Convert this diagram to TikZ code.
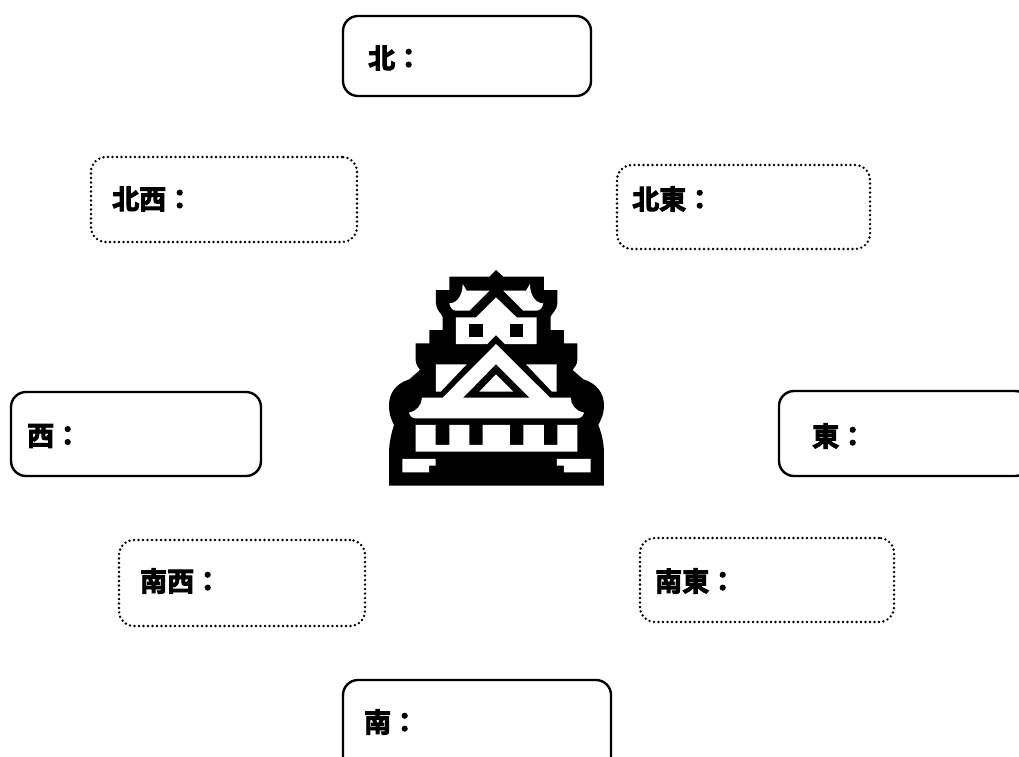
\documentclass[tikz,border=0pt]{standalone}
\usepackage{fontspec}
\newfontfamily\cjk[FakeBold=3.5]{Noto Sans CJK JP Bold}
\tikzset{
  x=1pt,y=-1pt,
  solidbox/.style={draw=black,line width=2.4pt,rounded corners=15pt,inner sep=0pt,fill=white},
  dotbox/.style={draw=black,line width=2.7pt,dash pattern=on 0pt off 4.5pt,line cap=round,rounded corners=15pt,inner sep=0pt,fill=white},
  lab/.style={anchor=west,inner sep=0pt,font=\cjk\fontsize{27}{27}\selectfont,text=black},
}
\newcommand{\boxnode}[6]{% name style x1 y1 x2 y2
  \node[#2,minimum width={(#5-#3)*1pt},minimum height={(#6-#4)*1pt}] (#1) at ({(#3+#5)/2},{(#4+#6)/2}) {};}
\begin{document}
\begin{tikzpicture}
\useasboundingbox (0,0) rectangle (1019,756);
\clip (0,0) rectangle (1019,756);
\fill[white] (0,0) rectangle (1019,756);
\boxnode{bn}{solidbox}{343}{16}{591}{96}
\boxnode{bnw}{dotbox}{91}{157}{357}{242}
\boxnode{bne}{dotbox}{617}{165}{870}{249}
\boxnode{bw}{solidbox}{11}{392}{261}{476}
\boxnode{be}{solidbox}{779}{391}{1030}{476}
\boxnode{bsw}{dotbox}{119}{540}{365}{626}
\boxnode{bse}{dotbox}{640}{538}{894}{622}
\boxnode{bs}{solidbox}{343}{680}{611}{775}
\node[lab] (tn) at (368,58) {北：};
\node[lab] (tnw) at (112,199) {北西：};
\node[lab] (tne) at (632,199) {北東：};
\node[lab] (tw) at (27,436) {西：};
\node[lab] (te) at (812,436) {東：};
\node[lab] (tsw) at (140,581) {南西：};
\node[lab] (tse) at (655,581) {南東：};
\node[lab] (ts) at (364,722) {南：};
\begin{scope}[shift={(370,260)},x=0.3333pt,y=-0.3333pt]
\fill[black] (378,30) -- (400,50) -- (522,50) -- (522,90) -- (562,90) -- (562,130) .. controls (562,150) and (545,160) .. (542,170) -- (542,210) -- (582,210) -- (582,250) -- (622,250) -- (622,300) .. controls (622,315) and (612,322) .. (608,330) -- (640,358) .. controls (680,370) and (702,400) .. (702,435) .. controls (702,465) and (692,480) .. (685,495) .. controls (695,520) and (702,550) .. (702,580) -- (702,677) -- (57,677) -- (57,580) .. controls (57,550) and (64,520) .. (72,495) .. controls (65,480) and (57,465) .. (57,435) .. controls (57,400) and (78,370) .. (118,358) -- (150,330) .. controls (146,322) and (137,315) .. (137,300) -- (137,250) -- (178,250) -- (178,210) -- (218,210) -- (218,170) .. controls (214,160) and (198,150) .. (198,130) -- (198,90) -- (238,90) -- (238,50) -- (358,50) -- cycle;
\fill[white] (278,72) -- (290,92) -- (358,92) -- (298,152) -- (258,152) .. controls (248,152) and (240,142) .. (238,130) .. controls (262,130) and (278,105) .. (278,72) -- cycle;
\fill[white] (480,72) -- (468,92) -- (400,92) -- (460,152) -- (500,152) .. controls (510,152) and (518,142) .. (520,130) .. controls (496,130) and (480,105) .. (480,72) -- cycle;
\fill[white] (258,172) -- (318,172) -- (378,112) -- (440,172) -- (500,172) -- (500,252) -- (405,252) -- (378,225) -- (352,252) -- (258,252) -- cycle;
\fill[black] (298,192) rectangle (338,232);
\fill[black] (420,192) rectangle (460,232);
\fill[white] (198,313) -- (290,313) -- (212,395) -- (198,395) -- cycle;
\fill[white] (560,313) -- (468,313) -- (546,395) -- (560,395) -- cycle;
\fill[white] (378,252) -- (540,413) -- (602,413) .. controls (602,435) and (620,455) .. (642,458) .. controls (640,468) and (632,475) .. (622,475) -- (137,475) .. controls (127,475) and (119,468) .. (117,458) .. controls (138,455) and (156,435) .. (156,413) -- (218,413) -- cycle;
\fill[black] (378,313) -- (478,413) -- (280,413) -- cycle;
\fill[white] (378,343) -- (430,395) -- (328,395) -- cycle;
\fill[white] (137,495) -- (197,495) -- (197,555) -- (238,555) -- (238,495) -- (298,495) -- (298,555) -- (338,555) -- (338,495) -- (420,495) -- (420,555) -- (460,555) -- (460,495) -- (522,495) -- (522,555) -- (562,555) -- (562,495) -- (622,495) -- (622,575) -- (137,575) -- cycle;
\fill[white] (97,597) -- (197,597) -- (197,617) -- (177,617) -- (177,637) -- (97,637) -- cycle;
\fill[white] (662,597) -- (561,597) -- (561,617) -- (582,617) -- (582,637) -- (662,637) -- cycle;
\end{scope}
\end{tikzpicture}
\end{document}
